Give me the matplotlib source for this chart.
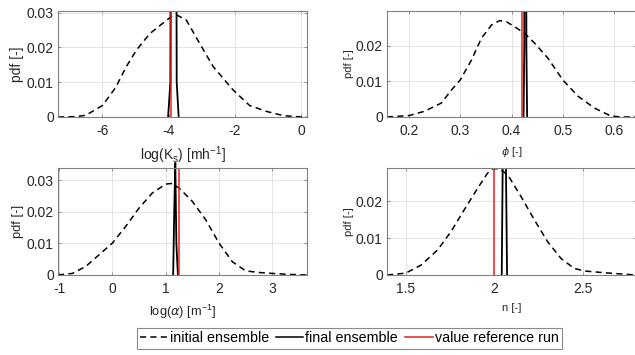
import matplotlib

matplotlib.use("Agg")

import matplotlib.pyplot as plt
from matplotlib.lines import Line2D
from matplotlib.ticker import FuncFormatter

plt.rcParams["font.family"] = ["Liberation Sans", "DejaVu Sans"]
plt.rcParams["mathtext.fontset"] = "dejavusans"
plt.rcParams["axes.unicode_minus"] = False

# initial ensemble densities (dashed)
ks_init_x = [-7.34, -6.8, -6.5, -6.0, -5.6, -5.28, -4.97, -4.57, -4.07, -3.92, -3.75, -3.47,
             -3.07, -2.66, -2.06, -1.56, -1.05, -0.55, 0.0, 0.17]
ks_init_y = [0.0, 0.0001, 0.0005, 0.0033, 0.0085, 0.0145, 0.0193, 0.024, 0.0278, 0.0289,
             0.0293, 0.0279, 0.0212, 0.0145, 0.0078, 0.0033, 0.0016, 0.0004, 0.0, 0.0]

phi_init_x = [0.157, 0.2, 0.23, 0.263, 0.283, 0.3, 0.322, 0.341, 0.361, 0.377, 0.39, 0.406,
              0.426, 0.445, 0.471, 0.5, 0.53, 0.562, 0.595, 0.62, 0.643]
phi_init_y = [0.0, 0.0004, 0.0016, 0.0039, 0.0076, 0.0104, 0.016, 0.022, 0.0258, 0.027,
              0.0267, 0.0253, 0.0234, 0.0207, 0.0165, 0.0104, 0.0058, 0.0025, 0.0002, 0.0, 0.0]

alpha_init_x = [-1.02, -0.75, -0.5, -0.25, 0.0, 0.25, 0.5, 0.75, 1.0, 1.1, 1.25, 1.5, 1.75,
                2.0, 2.25, 2.5, 2.75, 3.0, 3.3, 3.65]
alpha_init_y = [0.0, 0.0005, 0.0027, 0.0064, 0.0101, 0.0154, 0.0212, 0.026, 0.0288, 0.029,
                0.0276, 0.0233, 0.0175, 0.0101, 0.0042, 0.0013, 0.0008, 0.0005, 0.0002, 0.0]

n_init_x = [1.395, 1.5, 1.587, 1.68, 1.756, 1.83, 1.906, 1.962, 1.99, 2.028, 2.075, 2.15,
            2.226, 2.3, 2.376, 2.45, 2.507, 2.6, 2.68, 2.77, 2.8]
n_init_y = [0.0, 0.0005, 0.0027, 0.0068, 0.0118, 0.0177, 0.0236, 0.0277, 0.0289, 0.0289,
            0.0273, 0.0214, 0.015, 0.0091, 0.0045, 0.0018, 0.0011, 0.0007, 0.0004, 0.0001, 0.0]

# final ensemble densities (solid, very narrow)
ks_final_x = [-4.02, -3.95, -3.88, -3.83, -3.76, -3.70]
ks_final_y = [0.0, 0.01, 0.3, 0.3, 0.01, 0.0]

phi_final_x = [0.4235, 0.425, 0.427, 0.429, 0.4305]
phi_final_y = [0.0, 0.02, 0.4, 0.02, 0.0]

alpha_final_x = [1.14, 1.16, 1.18, 1.2, 1.22, 1.23]
alpha_final_y = [0.0, 0.02, 0.0355, 0.01, 0.003, 0.0]

n_final_x = [2.042, 2.047, 2.054, 2.06, 2.066, 2.072]
n_final_y = [0.0, 0.028, 0.2, 0.2, 0.028, 0.0]

# reference run values (red)
ref_values = [-3.93, 0.42, 1.245, 2.0]

xlims = [(-7.34, 0.17), (0.157, 0.643), (-1.02, 3.65), (1.395, 2.799)]
ylims = [(0, 0.0305), (0, 0.0297), (0, 0.0339), (0, 0.0291)]
xtick_sets = [[-6, -4, -2, 0], [0.2, 0.3, 0.4, 0.5, 0.6], [-1, 0, 1, 2, 3], [1.5, 2, 2.5]]
ytick_sets = [[0, 0.01, 0.02, 0.03], [0, 0.01, 0.02], [0, 0.01, 0.02, 0.03], [0, 0.01, 0.02]]
xlabels = [r"log(K$_\mathregular{s}$) [mh$^\mathregular{-1}$]", r"$\phi$ [-]",
           r"log($\alpha$) [m$^\mathregular{-1}$]", "n [-]"]

W, H = 635, 355
fig = plt.figure(figsize=(W / 100, H / 100), dpi=100)

# axes boxes in pixels: left, top, width, height
boxes = [(58, 11, 249, 106), (387, 11, 249, 106), (58, 168, 249, 107), (387, 168, 249, 107)]
label_sizes = [10, 8, 9.3, 8]
clip_final = [True, True, False, True]

inits = [(ks_init_x, ks_init_y), (phi_init_x, phi_init_y),
         (alpha_init_x, alpha_init_y), (n_init_x, n_init_y)]
finals = [(ks_final_x, ks_final_y), (phi_final_x, phi_final_y),
          (alpha_final_x, alpha_final_y), (n_final_x, n_final_y)]

frame_color = "#808080"
dash = (4.0, 2.8)

for i in range(4):
    l, t, w, h = boxes[i]
    ax = fig.add_axes([l / W, 1 - (t + h) / H, w / W, h / H])
    ax.plot(*inits[i], color="black", lw=1.1, dashes=dash)
    ax.plot(*finals[i], color="black", lw=1.3, clip_on=clip_final[i])
    ax.axvline(ref_values[i], color="#e8201e", lw=1.1)
    ax.set_xlim(*xlims[i])
    ax.set_ylim(*ylims[i])
    ax.set_xticks(xtick_sets[i])
    ax.set_yticks(ytick_sets[i])
    ax.yaxis.set_major_formatter(FuncFormatter(lambda v, p: f"{v:g}"))
    ax.xaxis.set_major_formatter(FuncFormatter(lambda v, p: f"{v:g}"))
    ax.grid(True, color="#e3e3e3", lw=0.7)
    ax.set_axisbelow(True)
    for s in ax.spines.values():
        s.set_color(frame_color)
        s.set_linewidth(0.8)
    ax.tick_params(direction="in", top=True, right=True, length=2.5, width=0.6,
                   color=frame_color, labelsize=10, labelcolor="#262626")
    ax.tick_params(axis="x", pad=5)
    ax.tick_params(axis="y", pad=3)
    ax.set_xlabel(xlabels[i], fontsize=label_sizes[i], labelpad=5, color="#262626")
    ax.set_ylabel("pdf [-]", fontsize=label_sizes[i], labelpad=1 if i % 2 else 2,
                  color="#262626")

handles = [
    Line2D([], [], color="black", lw=1.1, dashes=dash),
    Line2D([], [], color="black", lw=1.1),
    Line2D([], [], color="#e8201e", lw=1.1),
]
leg = fig.legend(handles, ["initial ensemble", "final ensemble", "value reference run"],
                 loc="center", bbox_to_anchor=(349.5 / W, 1 - 338.5 / H), ncol=3,
                 fontsize=10.3, frameon=True, fancybox=False, framealpha=1,
                 edgecolor="#8a8a8a", handlelength=1.9, handletextpad=0.15,
                 columnspacing=0.5, borderpad=0.25, borderaxespad=0)
leg.get_frame().set_linewidth(0.8)

fig.savefig("out.png", dpi=100)
